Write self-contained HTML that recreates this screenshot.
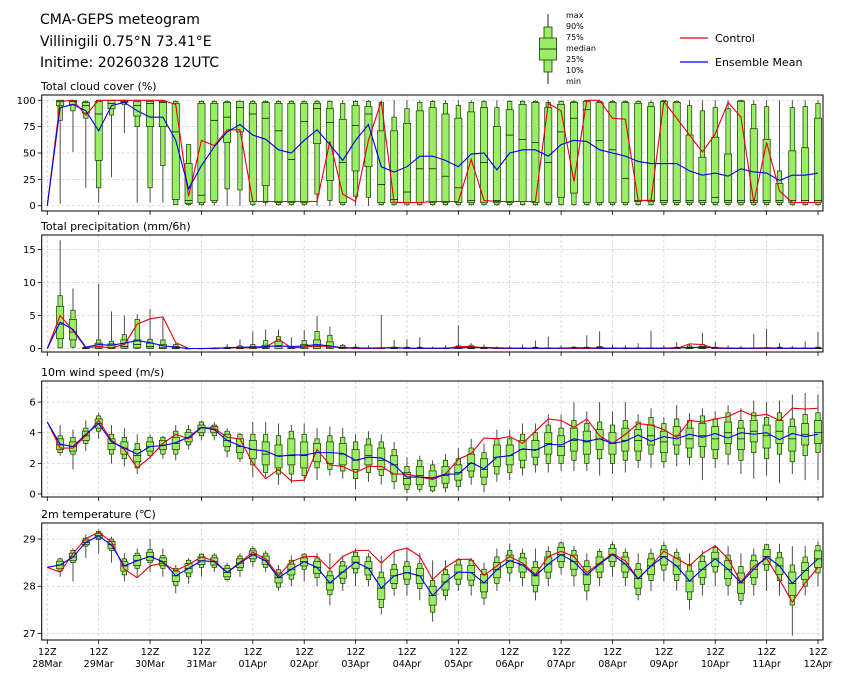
<!DOCTYPE html>
<html><head><meta charset="utf-8">
<style>
body{margin:0;background:#fff;}
svg{display:block;font-family:"DejaVu Sans","Liberation Sans",sans-serif;}
</style></head>
<body>
<svg id="chart" width="845" height="681" viewBox="0 0 845 681" xmlns="http://www.w3.org/2000/svg">
<rect width="845" height="681" fill="#fff"/>
<g font-size="14" fill="#000">
<text x="40" y="24">CMA-GEPS meteogram</text>
<text x="40" y="46">Villinigili 0.75°N 73.41°E</text>
<text x="40" y="67">Initime: 20260328 12UTC</text>
</g>
<g>
<line x1="548" y1="14" x2="548" y2="84" stroke="#222" stroke-width="1"/>
<rect x="544" y="27" width="8" height="45" fill="#99ee66" stroke="#1a3300" stroke-width="0.8"/>
<rect x="539.5" y="38" width="17" height="22" fill="#99ee66" stroke="#1a3300" stroke-width="0.8"/>
<line x1="539.5" y1="49" x2="556.5" y2="49" stroke="#000" stroke-width="0.8"/>
<g font-size="8" fill="#000">
<text x="566" y="18">max</text><text x="566" y="29">90%</text><text x="566" y="40">75%</text>
<text x="566" y="51">median</text><text x="566" y="62">25%</text><text x="566" y="73">10%</text><text x="566" y="84">min</text>
</g>
</g>
<g font-size="11">
<line x1="680" y1="38" x2="708" y2="38" stroke="#e8000b" stroke-width="1.2"/>
<text x="715" y="42">Control</text>
<line x1="680" y1="62" x2="708" y2="62" stroke="#0000ee" stroke-width="1.2"/>
<text x="715" y="66">Ensemble Mean</text>
</g>
<g id="panels"></g>
</svg>
<script>
const NS='http://www.w3.org/2000/svg';
const dayLabels=['28Mar','29Mar','30Mar','31Mar','01Apr','02Apr','03Apr','04Apr','05Apr','06Apr','07Apr','08Apr','09Apr','10Apr','11Apr','12Apr'];

const cloudControl=[0,99,100,86,100,100,100,100,100,100,96,9,62,57,72,72,4,4,4,4,4,4,61,11,4,62,99,3,3,3,4,4,4,44,5,4,4,4,4,97,90,23,100,100,83,82,5,5,99,83,67,51,68,98,84,3,60,14,3,3,3];
const cloudMean=[0,93,96,90,71,95,98,90,84,84,62,16,38,56,70,77,67,63,53,50,62,72,58,43,62,77,37,32,37,47,47,43,37,49,50,34,50,53,53,47,58,62,61,53,50,47,42,40,40,40,33,29,31,28,35,32,31,24,29,29,31];
const cloudMin=[null,2,51,17,3,27,69,3,3,3,1,0,0,0,0,0,0,0,0,0,0,0,0,0,0,0,0,0,0,0,0,0,0,0,0,0,0,0,0,0,0,0,0,0,0,0,0,0,0,0,0,0,0,0,0,0,0,0,0,0,0];
const cloudP10=[null,81,90,83,17,86,96,75,17,38,1,1,1,3,16,15,1,3,1,1,1,11,5,1,9,8,1,1,1,1,1,1,1,1,1,1,1,1,1,1,1,1,1,1,1,1,1,1,1,1,1,1,1,1,1,1,1,1,1,1,1];
const cloudP25=[null,95,96,88,43,92,98,85,75,75,6,2,3,5,60,70,4,19,3,3,3,59,24,3,33,37,3,3,3,3,3,3,3,3,3,3,3,4,3,3,8,12,3,3,3,3,4,4,3,3,3,3,3,3,3,3,3,3,3,3,3];
const cloudMed=[null,99,99,95,87,97,99,95,97,98,70,5,10,81,84,93,87,83,71,44,80,92,79,41,76,87,20,6,13,35,35,28,17,5,41,5,67,63,60,41,70,83,91,62,53,26,5,5,5,5,5,5,8,5,5,5,5,5,5,5,5];
const cloudP75=[null,100,100,98,99,100,100,99,99,99,97,40,97,97,98,99,97,98,97,97,97,97,92,82,95,94,71,71,78,90,93,87,83,89,93,75,91,96,98,93,96,98,99,98,98,98,97,94,99,98,67,46,65,49,99,73,63,21,52,55,83];
const cloudP90=[null,100,100,99,100,100,100,100,99,100,99,58,99,99,99,99,99,99,99,99,99,99,99,97,99,99,98,84,92,98,99,97,95,98,99,93,99,99,99,98,99,99,100,99,99,99,99,98,100,99,95,90,93,92,100,96,94,33,93,94,97];
const cloudMax=[null,100,100,100,100,100,100,100,100,100,100,58,100,100,100,100,100,100,100,100,100,100,100,100,100,100,100,100,100,100,100,100,100,100,100,100,100,100,100,100,100,100,100,100,100,100,100,100,100,100,100,100,100,100,100,100,100,100,100,100,100];

const precControl=[0,5.0,2.7,0.1,0.3,0.1,0.6,3.7,4.5,4.8,0.9,0,0,0,0.1,0.1,0.1,0.2,1.4,0.1,0.2,0.4,0.3,0.1,0,0,0,0.2,0,0,0,0,0.3,0.3,0.1,0,0,0,0,0,0,0,0,0,0,0,0,0,0,0,0.7,0.6,0,0,0,0,0,0,0,0,0];
const precMean=[0,4.0,2.9,0.2,0.6,0.5,0.8,1.2,0.9,0.4,0.2,0,0,0.05,0.1,0.2,0.2,0.3,0.4,0.3,0.4,0.6,0.4,0.1,0.1,0.05,0.1,0.1,0.05,0.05,0.05,0.05,0.1,0.15,0.15,0.1,0.05,0.05,0.05,0.05,0.05,0.1,0.1,0.05,0.05,0.05,0.05,0.05,0.05,0.1,0.15,0.2,0.1,0.05,0.05,0.05,0.1,0.05,0.05,0.05,0.05];
const precMin=[null,0,0,0,0,0,0,0,0,0,0,0,0,0,0,0,0,0,0,0,0,0,0,0,0,0,0,0,0,0,0,0,0,0,0,0,0,0,0,0,0,0,0,0,0,0,0,0,0,0,0,0,0,0,0,0,0,0,0,0,0];
const precP10=[null,0.1,0.2,0,0,0,0,0,0,0,0,0,0,0,0,0,0,0,0,0,0,0,0,0,0,0,0,0,0,0,0,0,0,0,0,0,0,0,0,0,0,0,0,0,0,0,0,0,0,0,0,0,0,0,0,0,0,0,0,0,0];
const precP25=[null,1.5,1.3,0,0,0,0.05,0.1,0.05,0,0,0,0,0,0,0,0,0,0,0,0,0,0,0,0,0,0,0,0,0,0,0,0,0,0,0,0,0,0,0,0,0,0,0,0,0,0,0,0,0,0,0,0,0,0,0,0,0,0,0,0];
const precMed=[null,3.7,2.5,0.05,0.2,0.1,0.3,0.6,0.3,0.1,0.05,0,0,0,0,0,0.1,0.1,0.3,0.05,0.2,0.3,0.2,0.05,0.02,0,0.02,0.02,0.02,0.02,0,0,0.05,0.05,0.02,0,0,0,0,0,0,0,0,0.02,0,0,0,0,0,0,0.05,0.1,0.02,0,0,0,0,0.02,0,0,0];
const precP75=[null,6.4,4.4,0.1,0.8,0.7,1.3,1.3,0.8,0.6,0.3,0,0,0,0.05,0.2,0.3,0.5,1.1,0.2,0.6,1.3,1.0,0.2,0.1,0.05,0.05,0.1,0.1,0.1,0.02,0.05,0.2,0.3,0.1,0.05,0.05,0.05,0.1,0.05,0.05,0.1,0.1,0.2,0.05,0.05,0.05,0.05,0.05,0.1,0.2,0.3,0.1,0.05,0.05,0.05,0.05,0.1,0.05,0.05,0.1];
const precP90=[null,8.0,5.8,0.2,1.3,1.1,2.1,4.4,1.4,1.3,0.6,0,0,0.02,0.2,0.4,0.6,1.2,1.8,0.3,1.2,2.6,2.0,0.5,0.2,0.1,0.1,0.2,0.2,0.2,0.05,0.1,0.4,0.5,0.2,0.1,0.1,0.1,0.2,0.1,0.1,0.2,0.2,0.3,0.1,0.1,0.1,0.1,0.1,0.2,0.4,0.6,0.2,0.1,0.1,0.1,0.1,0.2,0.1,0.1,0.2];
const precMax=[null,16.4,9.1,0.3,9.8,5.6,5.0,5.2,6.0,4.6,0.8,0,0,0.2,0.7,1.4,2.6,2.9,2.9,1.7,2.8,4.9,3.3,0.7,0.7,0.5,5.1,1.3,1.4,1.7,0.3,0.5,3.5,0.8,0.6,0.3,0.4,0.6,1.2,1.8,0.5,0.4,2.0,2.6,0.6,0.5,0.8,2.7,0.5,1.0,0.6,2.4,1.0,0.5,0.4,2.2,3.0,0.8,0.4,1.1,2.5];

const windControl=[4.7,3.0,3.0,3.8,4.8,3.5,2.9,1.7,2.4,3.3,3.9,3.6,4.35,4.3,3.7,3.6,2.0,1.0,1.6,0.85,0.9,2.9,1.9,1.8,1.4,1.8,1.8,1.3,1.3,1.1,0.95,1.3,2.25,2.65,3.65,3.6,3.75,3.3,4.1,4.9,4.8,4.35,4.9,3.8,3.3,3.9,4.6,4.5,4.2,3.7,4.8,4.7,4.9,5.05,5.45,5.1,5.2,4.8,5.6,5.55,5.6];
const windMean=[4.7,3.25,3.1,3.9,4.6,3.4,3.0,2.6,3.1,3.15,3.35,3.7,4.35,4.2,3.5,3.15,2.9,2.8,2.45,2.55,2.55,2.7,2.7,2.65,2.2,2.4,2.35,1.9,1.1,1.1,1.05,1.3,1.3,2.05,1.65,2.4,2.5,2.95,2.85,3.25,3.2,3.6,3.45,3.6,3.3,3.45,3.85,3.45,3.75,3.6,3.9,3.7,3.95,3.65,4.0,3.9,4.0,3.55,3.95,3.75,3.9];
const windMin=[null,2.5,1.6,2.8,3.6,2.0,1.8,1.3,2.3,2.3,2.2,2.9,3.5,3.5,2.4,2.1,1.1,1.1,0.6,0.7,0.8,0.9,1.2,1.0,0.3,0.8,0.6,0.3,0.05,0.1,0.1,0.1,0.2,0.6,0.1,0.8,0.9,1.2,1.4,1.4,1.5,1.5,1.5,1.2,1.3,1.4,1.7,1.7,1.7,1.8,1.9,0.9,1.7,1.9,1.3,1.0,1.2,0.7,1.3,0.9,0.9];
const windP10=[null,2.7,2.6,3.3,4.1,2.6,2.3,1.7,2.5,2.6,2.6,3.2,3.8,3.8,2.8,2.3,1.9,1.4,1.3,1.3,1.2,1.7,1.6,1.5,1.0,1.4,1.2,0.8,0.3,0.3,0.2,0.4,0.5,1.1,0.6,1.3,1.4,1.7,1.9,2.0,2.0,2.2,2.0,2.3,2.0,2.2,2.2,2.6,2.1,2.6,2.4,2.4,2.3,2.6,2.2,2.7,2.3,2.6,2.1,2.5,2.7];
const windP25=[null,2.9,2.8,3.5,4.3,2.9,2.6,2.1,2.8,2.9,2.9,3.4,4.0,4.0,3.1,2.7,2.3,1.9,1.7,1.9,1.7,2.1,2.0,1.9,1.6,1.9,1.6,1.3,0.6,0.6,0.5,0.7,0.9,1.5,1.1,1.8,1.9,2.2,2.4,2.6,2.5,2.8,2.6,2.9,2.6,2.8,2.8,3.2,2.7,3.2,3.0,3.1,2.9,3.3,2.9,3.4,3.0,3.3,2.8,3.2,3.3];
const windMed=[null,3.2,3.1,3.8,4.6,3.3,3.0,2.5,3.1,3.2,3.3,3.7,4.3,4.2,3.5,3.1,2.9,2.6,2.5,2.5,2.5,2.7,2.7,2.6,2.2,2.5,2.2,1.9,1.0,1.2,1.0,1.2,1.4,2.0,1.6,2.4,2.5,2.9,2.9,3.3,3.1,3.5,3.4,3.6,3.3,3.5,3.5,3.8,3.4,3.8,3.6,3.8,3.6,4.0,3.6,4.1,3.8,4.1,3.6,3.9,4.0];
const windP75=[null,3.6,3.4,4.1,4.9,3.6,3.4,2.9,3.4,3.5,3.7,4.0,4.5,4.4,3.9,3.6,3.5,3.4,3.2,3.6,3.4,3.3,3.4,3.3,2.9,3.2,3.0,2.5,1.4,1.8,1.5,1.8,1.9,2.6,2.3,3.2,3.2,3.5,3.5,4.0,3.8,4.3,4.1,4.2,4.0,4.3,4.2,4.5,4.1,4.4,4.3,4.6,4.4,4.7,4.3,4.8,4.5,4.8,4.4,4.6,4.8];
const windP90=[null,3.8,3.7,4.3,5.1,3.9,3.7,3.3,3.7,3.7,4.1,4.2,4.7,4.5,4.1,3.9,3.9,3.9,3.8,4.1,3.9,3.6,3.8,3.7,3.4,3.6,3.4,2.9,1.8,2.2,1.9,2.2,2.3,3.0,2.7,3.6,3.6,3.9,4.0,4.5,4.3,4.8,4.6,4.7,4.5,4.8,4.7,5.0,4.6,4.9,4.8,5.1,4.9,5.3,4.8,5.3,5.0,5.3,4.9,5.2,5.3];
const windMax=[null,4.5,4.2,4.8,5.3,4.5,4.3,3.9,3.9,3.8,4.5,4.5,4.8,4.7,4.3,4.0,4.7,4.7,4.6,4.5,4.6,4.3,4.4,4.3,3.9,4.1,3.9,3.4,2.4,2.5,2.2,2.6,3.0,3.6,3.3,4.2,4.2,4.6,4.6,5.2,5.2,6.0,5.4,6.0,5.4,6.0,5.2,5.6,5.0,5.8,5.3,5.6,5.4,5.8,5.6,6.1,6.0,6.1,6.5,6.6,6.5];

const tempControl=[28.4,28.3,28.69,29.01,29.14,28.94,28.36,28.18,28.43,28.49,28.33,28.46,28.62,28.54,28.29,28.51,28.72,28.58,28.22,28.52,28.63,28.63,28.36,28.63,28.76,28.76,28.49,28.74,28.81,28.63,28.14,28.4,28.57,28.57,28.23,28.43,28.63,28.49,28.25,28.63,28.74,28.63,28.29,28.49,28.69,28.54,28.16,28.43,28.74,28.59,28.43,28.69,28.86,28.58,28.09,28.42,28.59,28.14,27.66,28.07,28.4];
const tempMean=[28.4,28.45,28.62,28.93,29.07,28.87,28.43,28.54,28.63,28.52,28.22,28.38,28.54,28.52,28.29,28.49,28.67,28.54,28.18,28.36,28.52,28.4,28.07,28.3,28.51,28.38,27.96,28.22,28.29,28.22,27.8,28.09,28.3,28.29,28.07,28.35,28.54,28.45,28.22,28.47,28.67,28.52,28.24,28.47,28.67,28.47,28.16,28.43,28.63,28.43,28.11,28.36,28.58,28.36,28.07,28.36,28.63,28.43,28.06,28.33,28.58];
const tempMin=[null,28.2,28.1,28.6,28.7,28.5,28.1,28.2,28.3,28.2,27.85,28.05,28.2,28.3,28.1,28.2,28.4,28.3,27.9,28.0,28.1,28.0,27.6,27.9,28.0,28.0,27.4,27.8,27.8,27.7,27.25,27.7,27.9,27.8,27.6,27.9,28.1,28.0,27.7,28.0,28.25,28.0,27.7,28.0,28.2,28.0,27.7,27.9,28.1,27.9,27.5,27.8,28.0,27.8,27.6,27.8,27.9,27.8,26.95,27.8,28.0];
const tempP10=[null,28.32,28.5,28.85,28.99,28.76,28.24,28.38,28.5,28.38,28.02,28.2,28.4,28.4,28.14,28.33,28.52,28.4,27.98,28.15,28.36,28.18,27.82,28.06,28.28,28.14,27.55,27.95,28.04,27.95,27.45,27.8,28.04,28.02,27.75,28.06,28.28,28.18,27.88,28.17,28.4,28.22,27.9,28.18,28.42,28.18,27.82,28.12,28.34,28.12,27.72,28.04,28.3,28.02,27.7,28.04,28.34,28.12,27.6,28.0,28.28];
const tempP25=[null,28.37,28.55,28.88,29.02,28.8,28.32,28.44,28.55,28.44,28.1,28.28,28.46,28.45,28.2,28.4,28.58,28.46,28.07,28.24,28.43,28.27,27.92,28.17,28.38,28.24,27.72,28.06,28.15,28.06,27.6,27.92,28.15,28.13,27.88,28.18,28.4,28.3,28.02,28.3,28.52,28.36,28.04,28.3,28.52,28.3,27.96,28.25,28.45,28.25,27.88,28.18,28.42,28.16,27.85,28.18,28.46,28.25,27.8,28.14,28.4];
const tempMed=[null,28.45,28.62,28.93,29.07,28.88,28.43,28.55,28.63,28.52,28.22,28.38,28.54,28.52,28.29,28.49,28.67,28.55,28.18,28.36,28.52,28.4,28.07,28.3,28.51,28.38,27.96,28.22,28.29,28.22,27.8,28.09,28.3,28.29,28.07,28.35,28.54,28.45,28.22,28.47,28.67,28.52,28.24,28.47,28.67,28.47,28.16,28.43,28.63,28.43,28.11,28.36,28.58,28.36,28.07,28.36,28.63,28.43,28.06,28.33,28.58];
const tempP75=[null,28.53,28.7,28.98,29.12,28.95,28.52,28.65,28.72,28.6,28.32,28.48,28.62,28.6,28.38,28.58,28.75,28.64,28.28,28.47,28.6,28.52,28.22,28.43,28.63,28.52,28.18,28.36,28.42,28.38,28.0,28.25,28.45,28.44,28.25,28.5,28.66,28.6,28.4,28.62,28.82,28.66,28.42,28.62,28.8,28.62,28.35,28.58,28.77,28.6,28.32,28.52,28.72,28.54,28.28,28.54,28.78,28.6,28.3,28.5,28.75];
const tempP90=[null,28.58,28.76,29.02,29.16,29.0,28.58,28.7,28.78,28.65,28.38,28.55,28.68,28.66,28.44,28.64,28.8,28.7,28.35,28.55,28.68,28.6,28.32,28.52,28.72,28.62,28.3,28.46,28.52,28.48,28.12,28.35,28.56,28.55,28.36,28.62,28.76,28.7,28.52,28.74,28.92,28.76,28.54,28.74,28.88,28.72,28.48,28.7,28.86,28.72,28.46,28.64,28.82,28.66,28.42,28.66,28.88,28.72,28.45,28.62,28.86];
const tempMax=[null,28.6,28.8,29.1,29.2,29.05,28.7,28.8,29.0,28.8,28.45,28.6,28.7,28.7,28.5,28.7,28.85,28.75,28.45,28.65,28.7,28.7,28.7,28.65,28.8,28.7,28.65,28.75,28.8,28.7,28.55,28.55,28.6,28.6,28.5,28.8,28.9,28.8,28.8,28.85,28.95,28.85,28.7,28.8,28.95,28.8,28.7,28.8,28.95,28.8,28.7,28.75,28.85,28.85,28.7,28.8,28.9,28.9,28.85,28.85,28.95];

const cloudTicks=[0,25,50,75,100];
const precTicks=[0,5,10,15];
const windTicks=[0,2,4,6];
const tempTicks=[27,28,29];

const X0=41.7,X1=823;
function xs(i){return 47.3+i*12.845;}

const panels=[
 {name:'cloud-cover',title:'Total cloud cover (%)',top:95,bot:211,lo:-5,hi:105,ticks:cloudTicks,
  ctrl:cloudControl,mean:cloudMean,mn:cloudMin,p10:cloudP10,p25:cloudP25,med:cloudMed,p75:cloudP75,p90:cloudP90,mx:cloudMax},
 {name:'precipitation',title:'Total precipitation (mm/6h)',top:235,bot:352,lo:-0.53,hi:17.2,ticks:precTicks,
  ctrl:precControl,mean:precMean,mn:precMin,p10:precP10,p25:precP25,med:precMed,p75:precP75,p90:precP90,mx:precMax},
 {name:'wind-speed',title:'10m wind speed (m/s)',top:381,bot:497,lo:-0.2,hi:7.38,ticks:windTicks,
  ctrl:windControl,mean:windMean,mn:windMin,p10:windP10,p25:windP25,med:windMed,p75:windP75,p90:windP90,mx:windMax},
 {name:'temperature',title:'2m temperature (℃)',top:523,bot:640,lo:26.86,hi:29.34,ticks:tempTicks,
  ctrl:tempControl,mean:tempMean,mn:tempMin,p10:tempP10,p25:tempP25,med:tempMed,p75:tempP75,p90:tempP90,mx:tempMax}
];

function el(tag,attrs,parent){const e=document.createElementNS(NS,tag);for(const k in attrs)e.setAttribute(k,attrs[k]);parent.appendChild(e);return e;}

const root=document.getElementById('panels');
panels.forEach((p,pi)=>{
  const g=el('g',{},root);
  
  
  const ys=v=>p.bot-(v-p.lo)/(p.hi-p.lo)*(p.bot-p.top);
  const t=el('text',{x:41,y:p.top-5,'font-size':'11'},g);
  
  
  t.textContent=p.title;
  // grid
  for(let d=0;d<=15;d++){
    const x=xs(d*4);
    const gl=el('line',{x1:x,x2:x,y1:p.top,y2:p.bot,stroke:'#cfcfcf','stroke-width':0.7,'stroke-dasharray':'3,2'},g);
    
    
    const tk=el('line',{x1:x,x2:x,y1:p.bot,y2:p.bot+4,stroke:'#000','stroke-width':0.8},g);
    
    
  }
  p.ticks.forEach(v=>{
    const y=ys(v);
    const gl=el('line',{x1:X0,x2:X1,y1:y,y2:y,stroke:'#cfcfcf','stroke-width':0.7,'stroke-dasharray':'3,2'},g);
    
    
    const tk=el('line',{x1:X0-4,x2:X0,y1:y,y2:y,stroke:'#000','stroke-width':0.8},g);
    
    
    const tl=el('text',{x:X0-6,y:y+3.5,'font-size':'10','text-anchor':'end'},g);
    
    
    tl.textContent=String(v);
  });
  // boxes
  for(let i=1;i<p.med.length;i++){
    const x=xs(i);
    const bg=el('g',{},g);
    
    
    el('line',{x1:x,x2:x,y1:ys(p.mn[i]),y2:ys(p.mx[i]),stroke:'#3a3a3a','stroke-width':0.9},bg);
    const a=ys(p.p90[i]),b=ys(p.p10[i]);
    el('rect',{x:x-2.2,y:a,width:4.4,height:Math.max(0.3,b-a),fill:'#99ee66',stroke:'#1a3300','stroke-width':0.7},bg);
    const c=ys(p.p75[i]),d=ys(p.p25[i]);
    el('rect',{x:x-3.6,y:c,width:7.2,height:Math.max(0.3,d-c),fill:'#99ee66',stroke:'#1a3300','stroke-width':0.7},bg);
    el('line',{x1:x-3.6,x2:x+3.6,y1:ys(p.med[i]),y2:ys(p.med[i]),stroke:'#000','stroke-width':0.7},bg);
  }
  const line=(arr,col,nm)=>{
    const pl=el('polyline',{points:arr.map((v,i)=>xs(i)+','+ys(v)).join(' '),fill:'none',stroke:col,'stroke-width':1.1},g);
    
    
  };
  line(p.ctrl,'#e8000b',p.name+'-control-line');
  line(p.mean,'#0000ee',p.name+'-mean-line');
  const fr=el('rect',{x:X0,y:p.top,width:X1-X0,height:p.bot-p.top,fill:'none',stroke:'#000','stroke-width':1},g);
  
  
  if(pi===3){
    for(let d=0;d<=15;d++){
      const x=xs(d*4);
      const l1=el('text',{x:x,y:p.bot+15,'font-size':'9.5','text-anchor':'middle'},g);
      
      
      l1.textContent='12Z';
      const l2=el('text',{x:x,y:p.bot+27,'font-size':'9.5','text-anchor':'middle'},g);
      
      
      l2.textContent=dayLabels[d];
    }
  }
});
</script>
</body></html>
